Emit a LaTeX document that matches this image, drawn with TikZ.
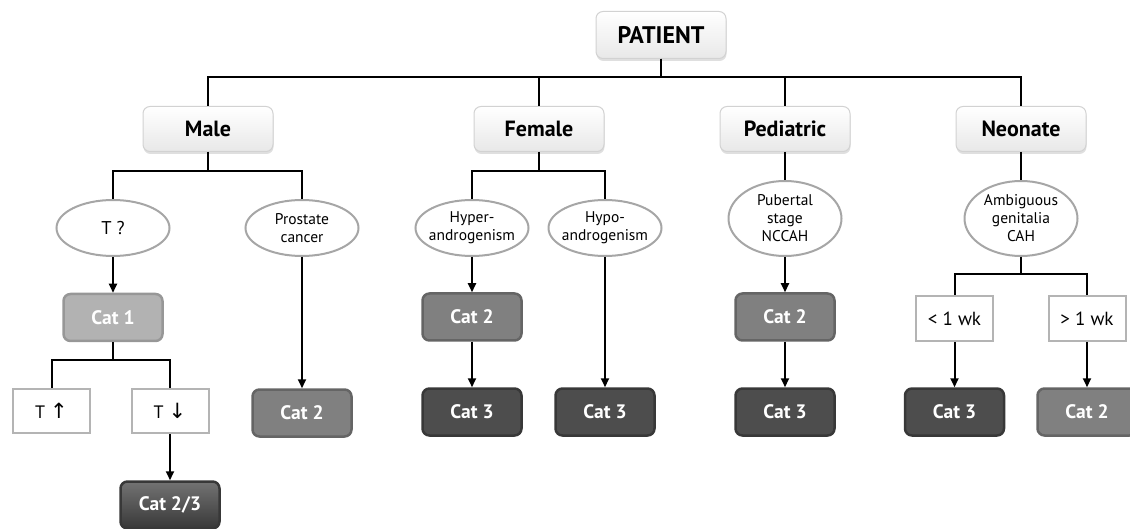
\documentclass[tikz,border=0pt]{standalone}
\usepackage{fontspec}
\setsansfont{PT Sans}
\newfontfamily\arrowfont{DejaVu Sans}
\usepackage{tikz}
\usetikzlibrary{arrows.meta,shapes.geometric,shadows}
\definecolor{grpborder}{HTML}{D2D2D2}
\definecolor{qstborder}{HTML}{A6A6A6}
\definecolor{cndborder}{HTML}{B4B4B4}
\definecolor{catonefill}{HTML}{B2B2B2}
\definecolor{catoneborder}{HTML}{979797}
\definecolor{cattwofill}{HTML}{808080}
\definecolor{cattwoborder}{HTML}{656565}
\definecolor{catthreefill}{HTML}{4D4D4D}
\definecolor{catthreeborder}{HTML}{383838}
\tikzset{
  flownode/.style = {align=center, inner sep=0pt, text centered,
    font=\sffamily},
  grp_n/.style = {flownode, rectangle, rounded corners=7pt, draw=grpborder,
    line width=1pt, top color=white, bottom color=black!9,
    minimum width=130pt, minimum height=45pt,
    font=\sffamily\bfseries\fontsize{22}{26}\selectfont,
    drop shadow={shadow xshift=0.5pt, shadow yshift=-2.5pt, opacity=0.25}},% groupe
  qst_e/.style = {flownode, ellipse, draw=qstborder, line width=2pt,
    fill=white, inner xsep=-4pt, minimum width=113pt, minimum height=56pt,
    font=\sffamily\fontsize{15.5}{18}\selectfont},% question, ellipse
  cnd_x/.style = {flownode, rectangle, draw=cndborder, line width=2pt,
    fill=white, minimum width=77pt, minimum height=44pt,
    font=\sffamily\fontsize{18}{20}\selectfont},% condition
  cat_n/.style = {flownode, rectangle, rounded corners=7pt, line width=2.5pt,
    white, minimum width=99pt, minimum height=47pt,
    font=\sffamily\bfseries\fontsize{19.5}{23}\selectfont},% categorie
  cat_1/.style = {cat_n, fill=catonefill, draw=catoneborder},
  cat_2/.style = {cat_n, fill=cattwofill, draw=cattwoborder},
  cat_3/.style = {cat_n, fill=catthreefill, draw=catthreeborder},
  cat_23/.style = {cat_n, top color=black!55, bottom color=black!78,
    draw=catthreeborder}% categorie 2/3
}

\begin{document}
\begin{tikzpicture}[x=1pt,y=-1pt,line width=2pt,>={Triangle[length=9pt,width=8pt]}]
    \clip (0,0) rectangle (1130,529);
    % groupes
    \node [grp_n, minimum height=47pt, font=\sffamily\bfseries\fontsize{24}{28}\selectfont]
        (patient) at (661,35) {PATIENT};
    \node [grp_n] (male) at (208,129) {Male};
    \node [grp_n] (female) at (539,129) {Female};
    \node [grp_n] (pediatric) at (785,129) {Pediatric};
    \node [grp_n] (neonate) at (1021,129) {Neonate};
    % questions
    \node [qst_e, font=\sffamily\fontsize{18.5}{22}\selectfont] (tq) at (113,228) {T ?};
    \node [qst_e] (prostate) at (302,228) {Prostate\\cancer};
    \node [qst_e] (hyper) at (472,228) {Hyper-\\androgenism};
    \node [qst_e] (hypo) at (605,228) {Hypo-\\androgenism};
    \node [qst_e, minimum height=75pt] (pubertal) at (785,218.5) {Pubertal\\stage\\NCCAH};
    \node [qst_e, minimum height=75pt] (ambig) at (1021,218.5) {Ambiguous\\genitalia\\CAH};
    % categories
    \node [cat_1] (cat1) at (113,317.5) {Cat 1};
    \node [cnd_x] (tup) at (51.5,411) {T\hspace{5pt}{\arrowfont\fontsize{21}{22}\selectfont ↑}};
    \node [cnd_x] (tdown) at (170,411) {T\hspace{5pt}{\arrowfont\fontsize{21}{22}\selectfont ↓}};
    \node [cat_23] (cat23) at (170,505) {Cat 2/3};
    \node [cat_2] (mcat2) at (302,413) {Cat 2};
    \node [cat_2] (fcat2) at (472,317) {Cat 2};
    \node [cat_3] (fcat3) at (472,412) {Cat 3};
    \node [cat_3] (hcat3) at (605,412) {Cat 3};
    \node [cat_2] (pcat2) at (785,317) {Cat 2};
    \node [cat_3] (pcat3) at (785,412) {Cat 3};
    \node [cnd_x, minimum height=45pt, font=\sffamily\fontsize{19}{22}\selectfont]
        (lt1) at (954.5,318.5) {< 1 wk};
    \node [cnd_x, minimum height=45pt, font=\sffamily\fontsize{19}{22}\selectfont]
        (gt1) at (1087,318.5) {> 1 wk};
    \node [cat_3] (ncat3) at (954.5,412) {Cat 3};
    \node [cat_2] (ncat2) at (1087,412) {Cat 2};
    % liens
    \foreach \grp in {male,female,pediatric,neonate}
        \draw (patient.south) -- ++(0,18) -| (\grp.north);
    \foreach \sub in {tq,prostate}
        \draw (male.south) -- ++(0,19) -| (\sub.north);
    \foreach \sub in {hyper,hypo}
        \draw (female.south) -- ++(0,19) -| (\sub.north);
    \draw (pediatric) -- (pubertal);
    \draw (neonate) -- (ambig);
    \foreach \sub in {tup,tdown}
        \draw (cat1.south) -- ++(0,18) -| (\sub.north);
    \foreach \sub in {lt1,gt1}
        \draw (ambig.south) -- ++(0,17) -| (\sub.north);
    % fleches
    \draw [->] (tq) -- (cat1);
    \draw [->] (tdown) -- (cat23);
    \draw [->] (prostate) -- (mcat2);
    \draw [->] (hyper) -- (fcat2);
    \draw [->] (fcat2) -- (fcat3);
    \draw [->] (hypo) -- (hcat3);
    \draw [->] (pubertal) -- (pcat2);
    \draw [->] (pcat2) -- (pcat3);
    \draw [->] (lt1) -- (ncat3);
    \draw [->] (gt1) -- (ncat2);
\end{tikzpicture}
\end{document}
